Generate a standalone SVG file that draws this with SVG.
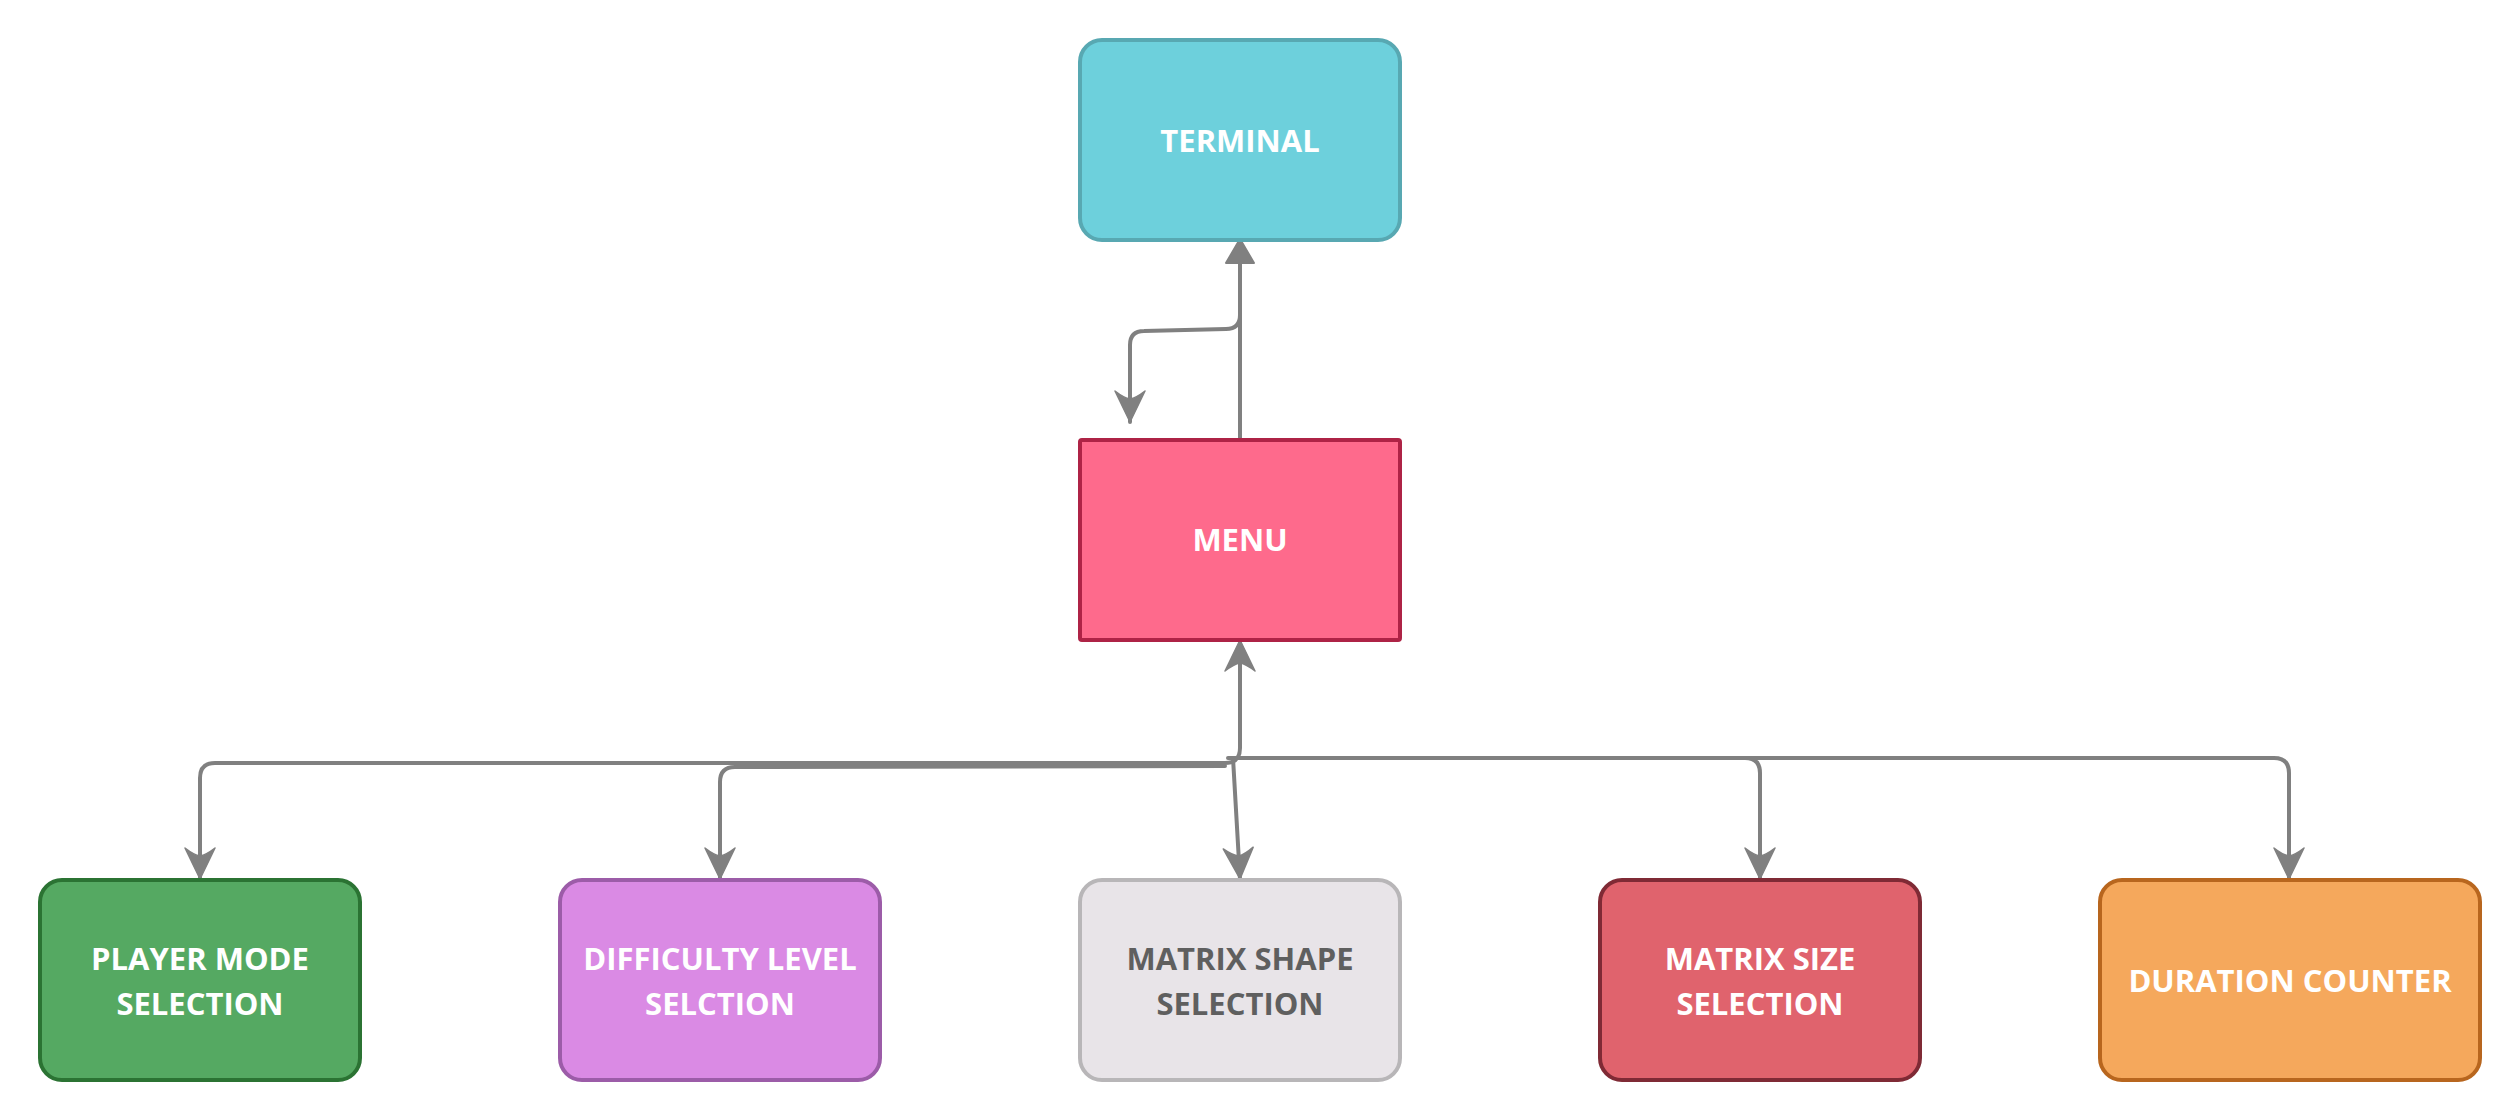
<svg xmlns="http://www.w3.org/2000/svg" width="2520" height="1120" viewBox="0 0 2520 1120">
<style>
.node rect{stroke-width:4}
.lbl{font-family:"Open Sans","Noto Sans","Liberation Sans",sans-serif;font-weight:700;font-size:31px;text-anchor:middle;fill:#ffffff}
.dark{fill:#5f5f5f}
.conn{fill:none;stroke:#808080;stroke-width:4;stroke-linejoin:round;stroke-linecap:round}
</style>
<defs>
<marker id="tri" markerUnits="userSpaceOnUse" markerWidth="44" markerHeight="44" viewBox="-32 -22 44 44" refX="0" refY="0" orient="auto">
<path d="M1,0 L-23,-14 L-23,14 Z" fill="#808080" stroke="#808080" stroke-width="2" stroke-linejoin="round"/>
</marker>
<marker id="vee" markerUnits="userSpaceOnUse" markerWidth="44" markerHeight="44" viewBox="-38 -22 44 44" refX="0" refY="0" orient="auto-start-reverse">
<path d="M0,0 L-31,-15 Q-24,-6 -23,0 Q-24,6 -31,15 Z" fill="#808080" stroke="#808080" stroke-width="1.5" stroke-linejoin="round"/>
</marker>
</defs>
<rect width="2520" height="1120" fill="#ffffff"/>
<g id="connectors">
<path class="conn" d="M1240,440 L1240,240" marker-end="url(#tri)"/>
<path class="conn" d="M1240,250 L1240,315 Q1240,329 1226,329 L1144,331 Q1130,331 1130,345 L1130,422" marker-end="url(#vee)"/>
<path class="conn" d="M200,879 L200,778 Q200,763 215,763 L1225,763 Q1240,763 1240,748 L1240,640" marker-start="url(#vee)" marker-end="url(#vee)"/>
<path class="conn" d="M720,879 L720,782 Q720,767 735,767 L1225,766" marker-start="url(#vee)"/>
<path class="conn" d="M1233,758 L1240,879" marker-end="url(#vee)"/>
<path class="conn" d="M1228,758 L1745,758 Q1760,758 1760,773 L1760,879" marker-end="url(#vee)"/>
<path class="conn" d="M1745,758 L2274,758 Q2289,758 2289,773 L2289,879" marker-end="url(#vee)"/>
<path class="conn" d="M1250,639 L1265,639"/>
</g>
<g id="terminal" class="node">
<rect x="1080" y="40" width="320" height="200" rx="22" fill="#6dd0dc" stroke="#58a8b2"/>
<text class="lbl" x="1240" y="152">TERMINAL</text>
</g>
<g id="menu" class="node">
<rect x="1080" y="440" width="320" height="200" rx="2" fill="#fe6a8c" stroke="#ae2346"/>
<text class="lbl" x="1240" y="551">MENU</text>
</g>
<g id="player-mode" class="node">
<rect x="40" y="880" width="320" height="200" rx="22" fill="#55a962" stroke="#2b7333"/>
<text class="lbl" x="200" y="970">PLAYER MODE</text>
<text class="lbl" x="200" y="1015">SELECTION</text>
</g>
<g id="difficulty" class="node">
<rect x="560" y="880" width="320" height="200" rx="22" fill="#da8ae4" stroke="#9c5ca8"/>
<text class="lbl" x="720" y="970">DIFFICULTY LEVEL</text>
<text class="lbl" x="720" y="1015">SELCTION</text>
</g>
<g id="matrix-shape" class="node">
<rect x="1080" y="880" width="320" height="200" rx="22" fill="#e8e4e8" stroke="#b8b6b8"/>
<text class="lbl dark" x="1240" y="970">MATRIX SHAPE</text>
<text class="lbl dark" x="1240" y="1015">SELECTION</text>
</g>
<g id="matrix-size" class="node">
<rect x="1600" y="880" width="320" height="200" rx="22" fill="#e0636d" stroke="#7f2a35"/>
<text class="lbl" x="1760" y="970">MATRIX SIZE</text>
<text class="lbl" x="1760" y="1015">SELECTION</text>
</g>
<g id="duration" class="node">
<rect x="2100" y="880" width="380" height="200" rx="22" fill="#f5a85c" stroke="#b8661e"/>
<text class="lbl" x="2290" y="992">DURATION COUNTER</text>
</g>
</svg>
